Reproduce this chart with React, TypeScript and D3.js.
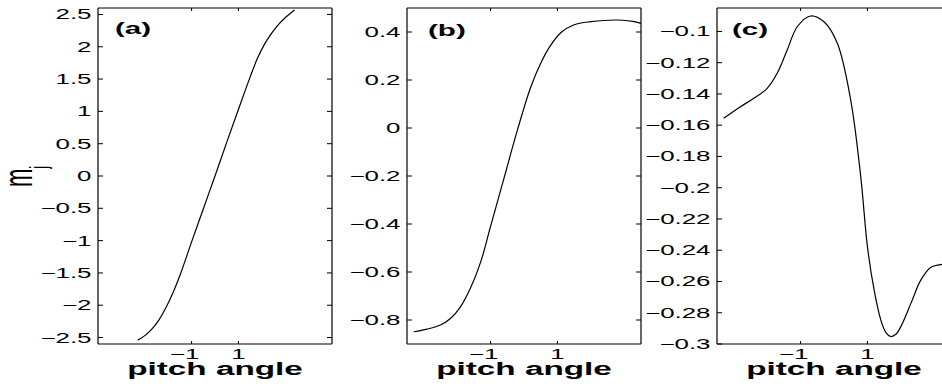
import * as d3 from 'd3';

const W = 942;
const H = 384;
const SX = 1.85; // the figure's text is stretched horizontally

// x ticks shared by all panels
const xTicks = [-1, 1];

// (a)
const xA = [-3.3, -3.0, -2.7, -2.4, -2.1, -1.8, -1.5, -1.0, -0.5, 0, 0.5, 1.0, 1.5, 1.8, 2.1, 2.4, 2.7, 3.0, 3.4];
const yA = [-2.54, -2.47, -2.37, -2.23, -2.04, -1.81, -1.54, -1.02, -0.51, 0.0, 0.52, 1.03, 1.53, 1.81, 2.03, 2.2, 2.34, 2.45, 2.57];
const ticksA = [2.5, 2, 1.5, 1, 0.5, 0, -0.5, -1, -1.5, -2, -2.5];

// (b)
const xB = [-3.3, -2.9, -2.5, -2.2, -1.9, -1.6, -1.3, -1.0, -0.6, -0.2, 0.2, 0.5, 0.8, 1.1, 1.5, 2.0, 2.8, 3.3, 3.5];
const yB = [-0.849, -0.838, -0.821, -0.794, -0.745, -0.667, -0.56, -0.41, -0.21, -0.01, 0.17, 0.27, 0.345, 0.397, 0.43, 0.443, 0.45, 0.443, 0.436];
const ticksB = [0.4, 0.2, 0, -0.2, -0.4, -0.6, -0.8];

// (c)
const xC = [-3.3, -2.8, -2.4, -2.0, -1.7, -1.4, -1.1, -0.7, -0.3, 0.1, 0.5, 0.8, 1.0, 1.2, 1.4, 1.55, 1.7, 1.85, 2.0, 2.3, 2.6, 2.9, 3.26, 3.45];
const yC = [-0.1556, -0.1482, -0.1428, -0.1364, -0.1268, -0.1119, -0.097, -0.0901, -0.0938, -0.1076, -0.1439, -0.1929, -0.2377, -0.2654, -0.2846, -0.2925, -0.2952, -0.2938, -0.2889, -0.274, -0.259, -0.2509, -0.249, -0.2488];
const ticksC = [-0.1, -0.12, -0.14, -0.16, -0.18, -0.2, -0.22, -0.24, -0.26, -0.28, -0.3];

const panels = [
  { label: '(a)', left: 98, xDom: [-5, 5], yDom: [-2.6, 2.6], xs: xA, ys: yA, yTicks: ticksA, labelDx: 17, labelY: 34 },
  { label: '(b)', left: 407, xDom: [-3.5, 3.5], yDom: [-0.9, 0.5], xs: xB, ys: yB, yTicks: ticksB, labelDx: 21, labelY: 36 },
  { label: '(c)', left: 717, xDom: [-3.5, 3.5], yDom: [-0.3, -0.085], xs: xC, ys: yC, yTicks: ticksC, labelDx: 15, labelY: 35 },
];

const TOP = 8;
const BOTTOM = 344;
const PW = 234;
const FONT = '"Liberation Sans", Arial, Helvetica, sans-serif';

const fmt = (v: number) => String(v).replace('-', '\u2212');

function Panel({ p }: { p: typeof panels[number] }) {
  const x = d3.scaleLinear().domain(p.xDom).range([p.left, p.left + PW]);
  const y = d3.scaleLinear().domain(p.yDom).range([BOTTOM, TOP]);
  const line = d3
    .line<number>()
    .x((_, i) => x(p.xs[i]))
    .y((d) => y(d))
    .curve(d3.curveCatmullRom.alpha(0.5));
  const right = p.left + PW;
  const cx = p.left + PW / 2;

  return (
    <g>
      <path d={line(p.ys) || ''} fill="none" stroke="#000" strokeWidth={1.2} />
      {/* box */}
      <line x1={p.left} x2={right} y1={TOP} y2={TOP} stroke="#555" strokeWidth={1.5} />
      <line x1={p.left} x2={right} y1={BOTTOM} y2={BOTTOM} stroke="#000" strokeWidth={1.2} />
      <line x1={p.left} x2={p.left} y1={TOP} y2={BOTTOM} stroke="#000" strokeWidth={1.2} />
      <line x1={right} x2={right} y1={TOP} y2={BOTTOM} stroke="#000" strokeWidth={1.2} />
      {p.yTicks.map((t) => (
        <g key={'y' + t}>
          <line x1={p.left} x2={p.left + 5} y1={y(t)} y2={y(t)} stroke="#000" />
          <line x1={right} x2={right - 5} y1={y(t)} y2={y(t)} stroke="#000" />
          <text
            transform={`translate(${p.left - 6.5},${y(t) + 5}) scale(${SX},1)`}
            textAnchor="end"
            fontSize={14}
            fontFamily={FONT}
          >
            {fmt(t)}
          </text>
        </g>
      ))}
      {xTicks.map((t) => (
        <g key={'x' + t}>
          <line x1={x(t)} x2={x(t)} y1={BOTTOM} y2={BOTTOM - 3} stroke="#000" />
          <line x1={x(t)} x2={x(t)} y1={TOP} y2={TOP + 3} stroke="#000" />
          <text
            transform={`translate(${x(t) + (t < 0 ? -7 : 0)},359) scale(${SX},1)`}
            textAnchor="middle"
            fontSize={14}
            fontFamily={FONT}
          >
            {fmt(t)}
          </text>
        </g>
      ))}
      <text
        transform={`translate(${cx},375) scale(${SX},1)`}
        textAnchor="middle"
        fontSize={18}
        fontWeight="bold"
        fontFamily={FONT}
      >
        pitch angle
      </text>
      <text
        transform={`translate(${p.left + p.labelDx},${p.labelY}) scale(${SX},1)`}
        fontSize={16}
        fontWeight="bold"
        fontFamily={FONT}
      >
        {p.label}
      </text>
    </g>
  );
}

export default function App() {
  return (
    <svg
      width={W}
      height={H}
      style={{ position: 'absolute', left: 0, top: 0, display: 'block', background: '#fff' }}
    >
      {panels.map((p) => (
        <Panel key={p.label} p={p} />
      ))}
      <text transform={`translate(32,187) scale(${SX},1) rotate(-90)`} fontSize={22} fontFamily={FONT}>
        m
        <tspan fontSize={13} dy={8}>
          j
        </tspan>
      </text>
    </svg>
  );
}
